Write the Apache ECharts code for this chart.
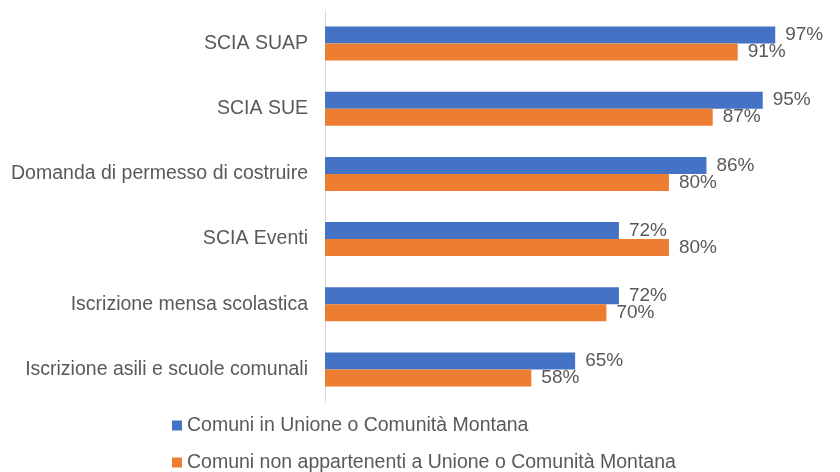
<!DOCTYPE html>
<html>
<head>
<meta charset="utf-8">
<script src="https://cdn.jsdelivr.net/npm/echarts@6/dist/echarts.min.js"></script>
<style>
  html, body { margin: 0; padding: 0; background: #fff; }
  #chart { width: 840px; height: 472px; }
</style>
</head>
<body>
<div id="chart"></div>
<script>
// categorie (dall'alto verso il basso)
var categories = [
    'SCIA SUAP',
    'SCIA SUE',
    'Domanda di permesso di costruire',
    'SCIA Eventi',
    'Iscrizione mensa scolastica',
    'Iscrizione asili e scuole comunali'
];
var seriesNames = [
    'Comuni in Unione o Comunità Montana',
    'Comuni non appartenenti a Unione o Comunità Montana'
];
var unioneData = [97, 95, 86, 72, 72, 65];      // blu
var nonUnioneData = [91, 87, 80, 80, 70, 58];   // arancio

var myChart = echarts.init(document.getElementById('chart'));
var font = 'Liberation Sans, Arial, sans-serif';

var option = {
    animation: false,
    legend: {
        orient: 'vertical',
        left: 167,
        top: 410,
        height: 70,
        icon: 'rect',
        itemWidth: 10,
        itemHeight: 10,
        itemGap: 16,
        textStyle: {
            color: '#595959',
            fontSize: 19.5,
            lineHeight: 21,
            fontFamily: font
        },
        data: seriesNames
    },
    grid: {     //posizione area grafico
        left: 325,
        right: 46,
        top: 11,
        bottom: 70
    },
    xAxis: {
        type: 'value',
        min: 25,
        max: 100,
        show: false,
        splitLine: { show: false }
    },
    yAxis: {
        type: 'category',
        inverse: true,
        data: categories,
        axisLine: {
            show: true,
            lineStyle: { color: '#d9d9d9', width: 1 }
        },
        axisTick: { show: false },
        axisLabel: {
            color: '#595959',
            fontSize: 19.5,
            fontFamily: font,
            margin: 17
        }
    },
    series: [
        {
            name: seriesNames[0],
            type: 'bar',
            data: unioneData,
            barWidth: 17,
            barGap: '0%',
            itemStyle: { color: '#4472C4' },
            label: {
                show: true,
                position: 'right',
                distance: 10,
                formatter: '{c}%',
                color: '#595959',
                fontSize: 19,
                fontFamily: font
            }
        },
        {
            name: seriesNames[1],
            type: 'bar',
            data: nonUnioneData,
            barWidth: 17,
            barGap: '0%',
            itemStyle: { color: '#ED7D31' },
            label: {
                show: true,
                position: 'right',
                distance: 10,
                formatter: '{c}%',
                color: '#595959',
                fontSize: 19,
                fontFamily: font
            }
        }
    ]
};

myChart.setOption(option);
</script>
</body>
</html>
